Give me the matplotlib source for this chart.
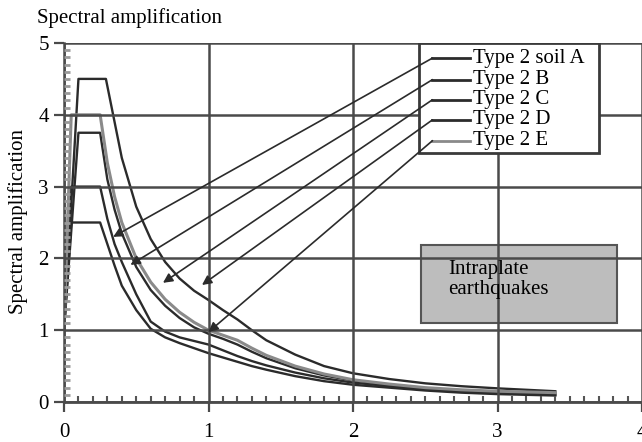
import numpy as np
import matplotlib
matplotlib.use('Agg')
import matplotlib.pyplot as plt
from matplotlib.patches import Rectangle
from matplotlib.ticker import MultipleLocator

plt.rcParams['font.family'] = ['Liberation Serif', 'DejaVu Serif']

# periods (s) and spectral amplification
xA = [0, 0.05, 0.25, 0.3, 0.35, 0.4, 0.5, 0.6, 0.7, 0.8, 0.9, 1.0, 1.1, 1.2, 1.3, 1.4, 1.6, 1.8, 2.0, 2.25, 2.5, 2.75, 3.0, 3.2, 3.4]
yA = [1.0, 2.5, 2.5, 2.2, 1.9, 1.62, 1.28, 1.02, 0.9, 0.82, 0.75, 0.68, 0.62, 0.56, 0.5, 0.45, 0.36, 0.29, 0.24, 0.2, 0.16, 0.13, 0.11, 0.1, 0.09]
xB = [0, 0.05, 0.25, 0.3, 0.35, 0.4, 0.5, 0.6, 0.7, 0.8, 0.9, 1.0, 1.1, 1.2, 1.3, 1.4, 1.6, 1.8, 2.0, 2.25, 2.5, 2.75, 3.0, 3.2, 3.4]
yB = [1.0, 3.0, 3.0, 2.55, 2.2, 1.95, 1.5, 1.12, 0.98, 0.9, 0.85, 0.8, 0.72, 0.64, 0.57, 0.51, 0.41, 0.33, 0.27, 0.22, 0.18, 0.15, 0.125, 0.11, 0.1]
xC = [0, 0.1, 0.25, 0.3, 0.35, 0.4, 0.5, 0.6, 0.7, 0.8, 0.9, 1.0, 1.1, 1.2, 1.3, 1.4, 1.6, 1.8, 2.0, 2.25, 2.5, 2.75, 3.0, 3.2, 3.4]
yC = [1.0, 3.75, 3.75, 3.1, 2.68, 2.35, 1.88, 1.56, 1.34, 1.17, 1.04, 0.95, 0.88, 0.8, 0.7, 0.61, 0.47, 0.37, 0.3, 0.24, 0.19, 0.16, 0.14, 0.13, 0.12]
xD = [0, 0.1, 0.29, 0.35, 0.4, 0.5, 0.6, 0.7, 0.8, 0.9, 1.0, 1.1, 1.2, 1.3, 1.4, 1.6, 1.8, 2.0, 2.25, 2.5, 2.75, 3.0, 3.2, 3.4]
yD = [1.0, 4.5, 4.5, 3.9, 3.4, 2.72, 2.27, 1.95, 1.72, 1.55, 1.42, 1.28, 1.15, 1.0, 0.86, 0.66, 0.5, 0.4, 0.32, 0.26, 0.22, 0.19, 0.17, 0.15]
xE = [0, 0.05, 0.25, 0.3, 0.35, 0.4, 0.5, 0.6, 0.7, 0.8, 0.9, 1.0, 1.1, 1.2, 1.3, 1.4, 1.6, 1.8, 2.0, 2.25, 2.5, 2.75, 3.0, 3.2, 3.4]
yE = [1.0, 4.0, 4.0, 3.33, 2.86, 2.5, 2.0, 1.67, 1.43, 1.25, 1.11, 1.0, 0.93, 0.86, 0.75, 0.65, 0.5, 0.39, 0.31, 0.25, 0.2, 0.17, 0.15, 0.14, 0.13]

labels = ['Type 2 soil A', 'Type 2 B', 'Type 2 C', 'Type 2 D', 'Type 2 E']
curve_colors = ['#2b2b2b', '#2b2b2b', '#2b2b2b', '#2b2b2b', '#8a8a8a']
# arrow tips on the curves for each legend entry
tip_x = [0.34, 0.46, 0.685, 0.955, 1.0]
tip_y = [2.30, 1.91, 1.66, 1.63, 0.975]

box_text = 'Intraplate\nearthquakes'
fs = 15

fig = plt.figure(figsize=(6.42, 4.42), dpi=100)
ax = fig.add_axes([64/642, 40/442, 578/642, 359/442])

curves = [(xA, yA), (xB, yB), (xC, yC), (xD, yD), (xE, yE)]
for (xs, ys), c in zip(curves, curve_colors):
    lw = 2.2 if c == '#8a8a8a' else 1.7
    ax.plot(xs, ys, color=c, lw=lw, zorder=2, solid_joinstyle='round')

ax.set_xlim(0, 4)
ax.set_ylim(0, 5)
ax.xaxis.set_major_locator(MultipleLocator(1))
ax.yaxis.set_major_locator(MultipleLocator(1))
ax.xaxis.set_minor_locator(MultipleLocator(0.1))
ax.yaxis.set_minor_locator(MultipleLocator(0.1))
ax.set_axisbelow(False)
ax.grid(True, which='major', color='#4a4a4a', lw=1.8)
for s in ['top', 'right']:
    ax.spines[s].set_visible(False)
ax.spines['left'].set_color('#4a4a4a')
ax.spines['left'].set_linewidth(1.8)
ax.spines['bottom'].set_color('#4a4a4a')
ax.spines['bottom'].set_linewidth(2.0)
ax.tick_params(which='major', direction='out', length=7, width=1.6, color='#4a4a4a', labelsize=fs, pad=4)
ax.tick_params(axis='x', which='major', pad=8)
ax.tick_params(axis='x', which='minor', direction='in', length=4, width=1.5, color='#555555')
ax.tick_params(axis='y', which='minor', direction='in', length=4, width=2, color='#9a9a9a')

# legend box drawn by hand with leader arrows
ax.add_patch(Rectangle((2.46, 3.47), 1.24, 1.53, facecolor='white', edgecolor='#3a3a3a', lw=2, zorder=5))
leg_y = [4.79, 4.49, 4.21, 3.93, 3.64]
for lab, ly, c, tx, ty in zip(labels, leg_y, curve_colors, tip_x, tip_y):
    ax.plot([2.55, 2.81], [ly, ly], color=c, lw=2, zorder=6)
    ax.text(2.83, ly, lab, fontsize=fs, va='center', ha='left', zorder=7)
    ax.annotate('', xy=(tx, ty), xytext=(2.55, ly), zorder=6,
                arrowprops=dict(arrowstyle='-|>', color='#2b2b2b', lw=1.2,
                                mutation_scale=14, shrinkA=0, shrinkB=0))

ax.add_patch(Rectangle((2.47, 1.10), 1.36, 1.09, facecolor='#bdbdbd', edgecolor='#555555', lw=1.5, zorder=0.4))
ax.text(2.66, 1.98, box_text, fontsize=fs, va='top', ha='left', linespacing=1.1, zorder=4)

fig.text(37/642, 1 - 18/442, 'Spectral amplification', fontsize=fs, va='center', ha='left')
fig.text(18/642, 1 - 222/442, 'Spectral amplification', fontsize=fs, va='center', ha='center', rotation=90)

fig.savefig('out.png', dpi=100)
